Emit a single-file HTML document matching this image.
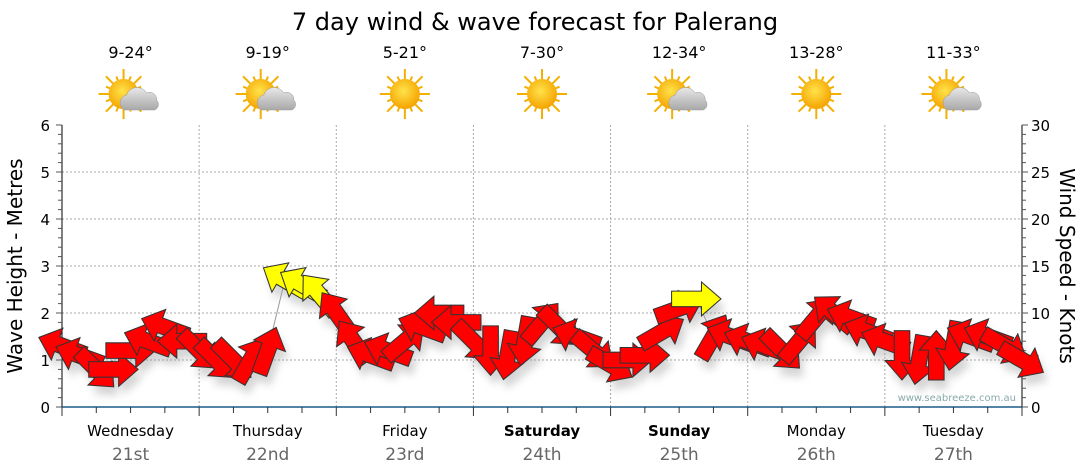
<!DOCTYPE html>
<html><head><meta charset="utf-8"><style>
body{margin:0;background:#fff;font-family:"DejaVu Sans","Liberation Sans",sans-serif;}
svg{display:block}
</style></head><body>
<svg id="c" width="1080" height="475" xmlns="http://www.w3.org/2000/svg" font-family="DejaVu Sans, Liberation Sans, sans-serif">
<defs>
<radialGradient id="sun" cx="45%" cy="40%" r="60%"><stop offset="0" stop-color="#ffe34a"/><stop offset="1" stop-color="#f5a300"/></radialGradient>
<linearGradient id="cloud" x1="0" y1="0" x2="0" y2="1"><stop offset="0" stop-color="#e8e8e8"/><stop offset="1" stop-color="#a8a8a8"/></linearGradient>
<filter id="sh" x="-50%" y="-50%" width="200%" height="200%"><feGaussianBlur stdDeviation="4"/></filter>
</defs>
<text x="535" y="30" font-size="24" text-anchor="middle">7 day wind &amp; wave forecast for Palerang</text>
<g id="plot"></g>
</svg>
<script>
const days=["Wednesday","Thursday","Friday","Saturday","Sunday","Monday","Tuesday"];
const dates=["21st","22nd","23rd","24th","25th","26th","27th"];
const temps=["9-24°","9-19°","5-21°","7-30°","12-34°","13-28°","11-33°"];
const cloudy=[1,1,0,0,1,0,1];
const boldDays=[0,0,0,1,1,0,0];
const waveTicks=[0,1,2,3,4,5,6];
const windTicks=[0,5,10,15,20,25,30];
const windSpeed=[6.5,5.5,4,4,6,7,8.5,7, 6,5,5,5,6,13.5,13,12, 10,7,5.5,6,7,8.5,10,9, 7,6,5.5,7,9,8.5,7.5,6, 4.5,5,5.5,8,10.5,11.5,7.5,7.5, 7,6.5,6,7,9.5,10,9.5,8, 7,5.5,5,5.5,6.5,7.5,7.5,6.5,5];
const windDir=[200,200,45,0,0,200,200,180, 45,45,45,-60,-70,210,210,230, 235,235,200,200,-40,200,180,180, 45,90,100,100,-50,45,200,40, 30,0,0,-30,-20,0,-60,200, 200,200,45,-50,-50,220,200,200, 200,90,100,-90,100,200,200,30,30];
const X0=62,X1=1022,Y0=407,Y1=125;
const ns="http://www.w3.org/2000/svg";
const svg=document.getElementById('c'),g=document.getElementById('plot');
function el(t,a,p){const e=document.createElementNS(ns,t);for(const k in a)e.setAttribute(k,a[k]);(p||g).appendChild(e);return e;}
const dayW=(X1-X0)/7;
const xT=h=>X0+h/8*dayW;
const yW=v=>Y0-(v/6)*(Y0-Y1);
const yK=v=>Y0-(v/30)*(Y0-Y1);
waveTicks.forEach(v=>{if(v>0&&v<6){const l=el('line',{x1:X0,x2:X1,y1:yW(v),y2:yW(v),stroke:'#aaa','stroke-dasharray':'2,2'});

}});
for(let d=1;d<7;d++){const l=el('line',{x1:X0+d*dayW,x2:X0+d*dayW,y1:Y1,y2:Y0,stroke:'#aaa','stroke-dasharray':'2,2'});

}
el('line',{x1:X0,x2:X0,y1:Y1,y2:Y0,stroke:'#000'});
el('line',{x1:X1,x2:X1,y1:Y1,y2:Y0,stroke:'#000'});
el('line',{x1:X0,x2:X1,y1:Y0,y2:Y0,stroke:'#1a5a8a','stroke-width':1.5});
for(let i=0;i<=30;i++){const v=i*0.2,y=yW(v);el('line',{x1:X0-(i%5?4:6),x2:X0,y1:y,y2:y,stroke:'#555'});}
for(let i=0;i<=30;i++){const y=yK(i);el('line',{x1:X1,x2:X1+(i%5?4:6),y1:y,y2:y,stroke:'#555'});}
waveTicks.forEach(v=>{const t=el('text',{x:X0-12,y:yW(v)+6,'font-size':15,'text-anchor':'end'});t.textContent=v;

});
windTicks.forEach(v=>{const t=el('text',{x:X1+9,y:yK(v)+6,'font-size':15});t.textContent=v;

});
for(let i=0;i<=28;i++){const x=X0+i*dayW/4;el('line',{x1:x,x2:x,y1:Y0,y2:Y0+(i%4?6:9),stroke:'#333'});}
let t=el('text',{x:0,y:0,'font-size':20,'text-anchor':'middle',transform:`translate(22,266) rotate(-90)`});t.textContent='Wave Height - Metres';

t=el('text',{x:0,y:0,'font-size':20,'text-anchor':'middle',transform:`translate(1060,266) rotate(90)`});t.textContent='Wind Speed - Knots';

t=el('text',{x:1016,y:401,'font-size':10,'text-anchor':'end',fill:'#8aa'});t.textContent='www.seabreeze.com.au';

days.forEach((d,i)=>{const cx=X0+(i+0.5)*dayW;
let a=el('text',{x:cx,y:436,'font-size':15,'text-anchor':'middle','font-weight':boldDays[i]?'bold':'normal'});a.textContent=d;

a=el('text',{x:cx,y:460,'font-size':17,'text-anchor':'middle',fill:'#666'});a.textContent=dates[i];

a=el('text',{x:cx,y:58,'font-size':16,'text-anchor':'middle'});a.textContent=temps[i];

const ic=el('g',{transform:`translate(${cx},94)`});

const sx=cloudy[i]?-7:0;
for(let r=0;r<16;r++){const an=r*Math.PI/8,L=r%2?19:25;el('line',{x1:sx+Math.cos(an)*12,y1:Math.sin(an)*12,x2:sx+Math.cos(an)*L,y2:Math.sin(an)*L,stroke:'#f3b000','stroke-width':2},ic);}
el('circle',{cx:sx,cy:0,r:15,fill:'url(#sun)'},ic);
if(cloudy[i]){el('path',{d:'M-6,16 a8,8 0 0 1 2,-15 a11,11 0 0 1 20,-2 a7,7 0 0 1 10,7 a6,6 0 0 1 -2,10 z',fill:'url(#cloud)',stroke:'#999','stroke-width':0.5},ic);}
});
function arrowPts(){return "-19,-6 4,-6 4,-13 19,0 4,13 4,6 -19,6";}
const sh=el('g',{filter:'url(#sh)',opacity:0.35});
windSpeed.forEach((v,i)=>{const x=xT(i),y=yK(v);el('polygon',{points:arrowPts(),fill:'#888',transform:`translate(${x+4},${y+9}) rotate(${windDir[i]}) scale(1.3)`},sh);});
el('polyline',{points:windSpeed.map((v,i)=>xT(i)+','+yK(v)).join(' '),fill:'none',stroke:'#999','stroke-width':1});
windSpeed.forEach((v,i)=>{const x=xT(i),y=yK(v);
const p=el('polygon',{points:arrowPts(),fill:v>=11?'#ffff00':'#ff0000',stroke:'#333','stroke-width':0.8,transform:`translate(${x},${y}) rotate(${windDir[i]}) scale(1.3)`});

});
</script>
</body></html>
